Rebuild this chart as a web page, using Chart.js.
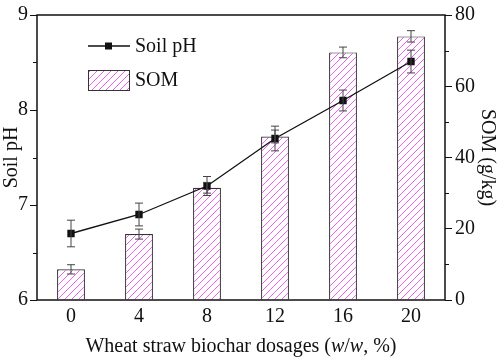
<!DOCTYPE html>
<html>
<head>
<meta charset="utf-8">
<script src="https://cdn.jsdelivr.net/npm/chart.js@4"></script>
<style>
  html, body { margin: 0; padding: 0; background: #fff; }
  #chartBox { width: 498px; height: 359px; }
</style>
</head>
<body>
<div id="chartBox"><canvas id="somChart" width="498" height="359"></canvas></div>
<script>
// data
const dosages = ['0', '4', '8', '12', '16', '20'];
const soilPh = [6.70, 6.90, 7.20, 7.70, 8.10, 8.51];
const soilPhErr = [0.14, 0.12, 0.10, 0.13, 0.11, 0.12];
const som = [8.6, 18.5, 31.5, 45.9, 69.5, 74.0];
const somErr = [1.3, 1.4, 1.5, 1.8, 1.5, 1.6];
const phTicks = [6, 7, 8, 9];
const somTicks = [0, 20, 40, 60, 80];

const serif = '"Liberation Serif", "Times New Roman", serif';
const ink = '#111';
const fontSize = 20;

// diagonal magenta hatch for the bars
function makeHatch() {
    const c = document.createElement('canvas');
    c.width = 7; c.height = 7;
    const g = c.getContext('2d');
    g.fillStyle = '#fff';
    g.fillRect(0, 0, 7, 7);
    g.strokeStyle = '#f060ee';
    g.lineWidth = 1;
    g.beginPath();
    g.moveTo(-1, 8); g.lineTo(8, -1);
    g.moveTo(-8, 8); g.lineTo(1, -1);
    g.moveTo(6, 8); g.lineTo(15, -1);
    g.stroke();
    return g.createPattern(c, 'repeat');
}

const ctx = document.querySelector('#somChart').getContext('2d');
const hatch = makeHatch();

const extrasPlugin = {
    id: 'extras',
    afterDatasetsDraw(chart) {
        const c = chart.ctx,
            area = chart.chartArea,
            x = chart.scales.x,
            y = chart.scales.y,
            y1 = chart.scales.y1;

        c.save();
        c.strokeStyle = '#444';
        c.lineWidth = 1;

        // error bars (bars first, then line points)
        function errBar(px, v, e, scale) {
            const top = scale.getPixelForValue(v + e),
                bot = scale.getPixelForValue(v - e);
            c.beginPath();
            c.moveTo(px, top); c.lineTo(px, bot);
            c.moveTo(px - 4, top); c.lineTo(px + 4, top);
            c.moveTo(px - 4, bot); c.lineTo(px + 4, bot);
            c.stroke();
        }
        som.forEach(function(v, i) {
            errBar(x.getPixelForValue(i), v, somErr[i], y1);
        });
        soilPh.forEach(function(v, i) {
            errBar(x.getPixelForValue(i), v, soilPhErr[i], y);
        });

        // frame
        c.strokeStyle = ink;
        c.lineWidth = 1.5;
        c.strokeRect(area.left, area.top, area.right - area.left, area.bottom - area.top);

        // minor ticks
        c.lineWidth = 1;
        c.beginPath();
        [6.5, 7.5, 8.5].forEach(function(v) {
            const py = Math.round(y.getPixelForValue(v)) + 0.5;
            c.moveTo(area.left - 4, py); c.lineTo(area.left, py);
        });
        [10, 30, 50, 70].forEach(function(v) {
            const py = Math.round(y1.getPixelForValue(v)) + 0.5;
            c.moveTo(area.right, py); c.lineTo(area.right + 4, py);
        });
        c.stroke();

        // legend
        c.fillStyle = ink;
        c.strokeStyle = ink;
        c.lineWidth = 1.3;
        c.beginPath();
        c.moveTo(88, 46); c.lineTo(130, 46);
        c.stroke();
        c.fillRect(105, 42.5, 7, 7);
        c.fillStyle = hatch;
        c.fillRect(88, 70.5, 41, 20);
        c.strokeStyle = '#333';
        c.lineWidth = 1;
        c.strokeRect(88.5, 70.5, 41, 20);
        c.fillStyle = ink;
        c.font = fontSize + 'px ' + serif;
        c.textBaseline = 'middle';
        c.textAlign = 'left';
        c.fillText('Soil pH', 135, 47);
        c.fillText('SOM', 135, 81);

        // axis titles
        c.textAlign = 'center';
        c.save();
        c.translate(12, (area.top + area.bottom) / 2);
        c.rotate(-Math.PI / 2);
        c.fillText('Soil pH', 0, 0);
        c.restore();
        c.save();
        c.translate(487, (area.top + area.bottom) / 2);
        c.rotate(Math.PI / 2);
        c.fillText('SOM (g/kg)', 0, 0);
        c.restore();

        // x title with italic w/w
        const parts = [
            ['Wheat straw biochar dosages (', false],
            ['w', true], ['/', false], ['w', true], [', %)', false]
        ];
        let total = 0;
        parts.forEach(function(p) {
            c.font = (p[1] ? 'italic ' : '') + fontSize + 'px ' + serif;
            total += c.measureText(p[0]).width;
        });
        let tx = (area.left + area.right) / 2 - total / 2;
        c.textAlign = 'left';
        parts.forEach(function(p) {
            c.font = (p[1] ? 'italic ' : '') + fontSize + 'px ' + serif;
            c.fillText(p[0], tx, 347);
            tx += c.measureText(p[0]).width;
        });
        c.restore();
    }
};

new Chart(ctx, {
    data: {
        labels: dosages,
        datasets: [
            {
                type: 'line',
                label: 'Soil pH',
                data: soilPh,
                yAxisID: 'y',
                borderColor: ink,
                backgroundColor: ink,
                borderWidth: 1.3,
                tension: 0,
                pointStyle: 'rect',
                pointRadius: 5.2,
                pointBorderWidth: 0,
                order: 0
            },
            {
                type: 'bar',
                label: 'SOM',
                data: som,
                yAxisID: 'y1',
                backgroundColor: hatch,
                borderColor: '#333',
                borderWidth: 1.2,
                barPercentage: 0.41,
                categoryPercentage: 1,
                order: 1
            }
        ]
    },
    options: {
        responsive: false,
        animation: false,
        layout: { padding: { top: 9, left: 0, right: 0, bottom: 0 } },
        plugins: {
            legend: { display: false },
            tooltip: { enabled: false }
        },
        scales: {
            x: {
                offset: true,
                grid: { display: false, drawTicks: false },
                border: { display: false },
                ticks: { color: ink, font: { family: serif, size: fontSize }, padding: 5 },
                afterFit: function(s) { s.height = 59; }
            },
            y: {
                position: 'left',
                min: 6,
                max: 9,
                afterBuildTicks: function(s) { s.ticks = phTicks.map(v => ({ value: v })); },
                grid: { drawOnChartArea: false, tickLength: 7, color: ink },
                border: { display: false },
                ticks: { color: ink, font: { family: serif, size: fontSize }, padding: 2 },
                afterFit: function(s) { s.width = 37; }
            },
            y1: {
                position: 'right',
                min: 0,
                max: 80,
                afterBuildTicks: function(s) { s.ticks = somTicks.map(v => ({ value: v })); },
                grid: { drawOnChartArea: false, tickLength: 7, color: ink },
                border: { display: false },
                ticks: { color: ink, font: { family: serif, size: fontSize }, padding: 3 },
                afterFit: function(s) { s.width = 53; }
            }
        }
    },
    plugins: [extrasPlugin]
});
</script>
</body>
</html>
